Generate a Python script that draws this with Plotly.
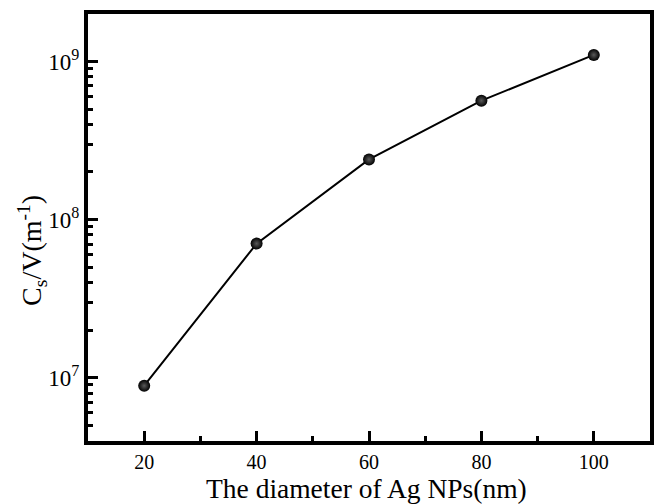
import plotly.graph_objects as go

# Capacitance per volume versus Ag nanoparticle diameter
diameter_nm = [20, 40, 60, 80, 100]
cs_over_v = [8.9e6, 7.05e7, 2.4e8, 5.65e8, 1.1e9]

x_ticks = [20, 40, 60, 80, 100]
x_minor = [30, 50, 70, 90]
y_ticks = [1e7, 1e8, 1e9]
y_tick_text = ["10<sup>7</sup>", "10<sup>8</sup>", "10<sup>9</sup>"]

x_title = "The diameter of Ag NPs(nm)"
y_title = "C<sub>s</sub>/V(m<sup>-1</sup>)"

font_family = "Liberation Serif, Times New Roman, serif"

fig = go.Figure()
fig.add_trace(go.Scatter(
    x=diameter_nm,
    y=cs_over_v,
    mode="lines+markers",
    line=dict(color="black", width=2),
    marker=dict(size=12, color="#000000", symbol="circle",
                line=dict(width=0),
                gradient=dict(type="radial", color="#5a5a5a")),
    showlegend=False,
))

# log-spaced minor tick positions for each decade
minor_vals = [m * 10 ** e for e in range(6, 10) for m in range(2, 10)]

fig.update_layout(
    width=658, height=504,
    margin=dict(l=88, r=4, t=14, b=63),
    paper_bgcolor="white",
    plot_bgcolor="white",
    font=dict(family=font_family, color="black", size=20),
    xaxis=dict(
        range=[10, 110],
        tickvals=x_ticks,
        ticks="inside", ticklen=10, tickwidth=3, tickcolor="black",
        showline=True, linewidth=4, linecolor="black", mirror=True,
        showgrid=False, zeroline=False,
        minor=dict(tickvals=x_minor, ticks="inside", ticklen=5,
                   tickwidth=3, tickcolor="black", showgrid=False),
        tickfont=dict(size=20),
        ticklabelstandoff=0,
    ),
    yaxis=dict(
        type="log",
        range=[6.60, 9.30],
        tickvals=y_ticks,
        ticktext=y_tick_text,
        ticks="inside", ticklen=10, tickwidth=3, tickcolor="black",
        showline=True, linewidth=4, linecolor="black", mirror=True,
        showgrid=False, zeroline=False,
        minor=dict(tickvals=minor_vals, ticks="inside", ticklen=5,
                   tickwidth=3, tickcolor="black", showgrid=False),
        tickfont=dict(size=23),
    ),
    annotations=[
        dict(text=x_title, xref="paper", yref="paper", x=0.495, y=-0.1115,
             xanchor="center", yanchor="middle", showarrow=False,
             font=dict(size=27.5)),
        dict(text=y_title, xref="paper", yref="paper", x=-0.1,
             y=0.447, xanchor="center", yanchor="middle", textangle=-90,
             showarrow=False, font=dict(size=28)),
    ],
)

fig.write_html("out.html")
